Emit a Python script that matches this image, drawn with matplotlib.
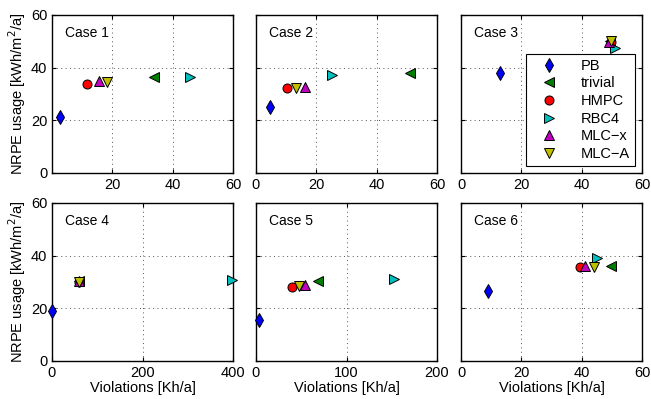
import matplotlib
matplotlib.use('Agg')
import matplotlib.pyplot as plt

plt.rcParams['font.family'] = ['Liberation Sans', 'DejaVu Sans']

methods = ['PB', 'trivial', 'HMPC', 'RBC4', 'MLC\u2212x', 'MLC\u2212A']
markers = ['d', '<', 'o', '>', '^', 'v']
colors = ['#0000ff', '#008000', '#ff0000', '#00bfbf', '#bf00bf', '#bfbf00']

# violations [Kh/a] per case, order as in methods
viol_1 = [2.8, 33.8, 11.7, 45.7, 15.6, 18.2]
viol_2 = [4.5, 51.0, 10.4, 25.3, 16.2, 13.2]
viol_3 = [12.9, 49.3, 49.6, 51.2, 49.2, 49.8]
viol_4 = [0.0, 60.0, 59.0, 398.0, 60.0, 60.0]
viol_5 = [3.6, 68.7, 39.8, 152.0, 54.0, 47.8]
viol_6 = [9.0, 49.6, 39.5, 45.2, 41.0, 44.0]

# NRPE usage [kWh/m2/a]
nrpe_1 = [21.2, 36.5, 33.8, 36.5, 35.0, 34.6]
nrpe_2 = [25.0, 37.9, 32.2, 37.1, 32.8, 32.3]
nrpe_3 = [37.8, 50.0, 49.8, 47.4, 49.6, 50.3]
nrpe_4 = [18.9, 30.2, 30.0, 30.7, 30.3, 30.0]
nrpe_5 = [15.4, 30.3, 28.1, 31.2, 29.0, 28.4]
nrpe_6 = [26.6, 36.2, 35.6, 39.1, 36.2, 35.8]

case_names = ['Case 1', 'Case 2', 'Case 3', 'Case 4', 'Case 5', 'Case 6']
x_limits = [60, 60, 60, 400, 200, 60]
x_ticks = [[20, 40, 60], [0, 20, 40, 60], [0, 20, 40, 60],
           [0, 200, 400], [0, 100, 200], [0, 20, 40, 60]]

viols = [viol_1, viol_2, viol_3, viol_4, viol_5, viol_6]
nrpes = [nrpe_1, nrpe_2, nrpe_3, nrpe_4, nrpe_5, nrpe_6]

fig = plt.figure(figsize=(6.51, 3.99), dpi=100)

lefts = [52, 256, 461]
bottoms = [173, 361]
W, H = 651.0, 399.0

axes = []
for i in range(6):
    r, c = divmod(i, 3)
    ax = fig.add_axes([lefts[c] / W, 1 - bottoms[r] / H, 181 / W, 158 / H])
    axes.append(ax)
    for k in range(6):
        ax.plot(viols[i][k], nrpes[i][k], linestyle='none', marker=markers[k],
                markerfacecolor=colors[k], markeredgecolor='k', markeredgewidth=0.7,
                markersize=7 if markers[k] == 'd' else 6.5, label=methods[k],
                clip_on=False, zorder=3)
    ax.set_xlim(0, x_limits[i])
    ax.set_ylim(0, 60)
    ax.set_xticks(x_ticks[i])
    ax.set_yticks([0, 20, 40, 60])
    ax.grid(True, linestyle=(0, (1, 3.5)), color='#555555', linewidth=0.7)
    ax.set_axisbelow(True)
    ax.tick_params(direction='in', length=3, labelsize=10.5, top=True, right=True)
    for s in ax.spines.values():
        s.set_linewidth(1.0)
    if c != 0:
        ax.set_yticklabels([])
    else:
        ax.set_ylabel('NRPE usage [kWh/m$^2$/a]', fontsize=10.5, labelpad=2)
    if r == 1:
        ax.set_xlabel('Violations [Kh/a]', fontsize=10.5, labelpad=1)
    ax.text(0.07, 0.93, case_names[i], transform=ax.transAxes,
            fontsize=10, va='top', ha='left')

leg = axes[2].legend(loc='lower right', bbox_to_anchor=(0.961, 0.044),
                     borderaxespad=0, fontsize=10.5, frameon=True, fancybox=False,
                     edgecolor='k', framealpha=1, labelspacing=0.25,
                     handletextpad=1.0, borderpad=0.35, handlelength=2.4)
leg.get_frame().set_linewidth(0.8)

fig.savefig('out.png', dpi=100)
